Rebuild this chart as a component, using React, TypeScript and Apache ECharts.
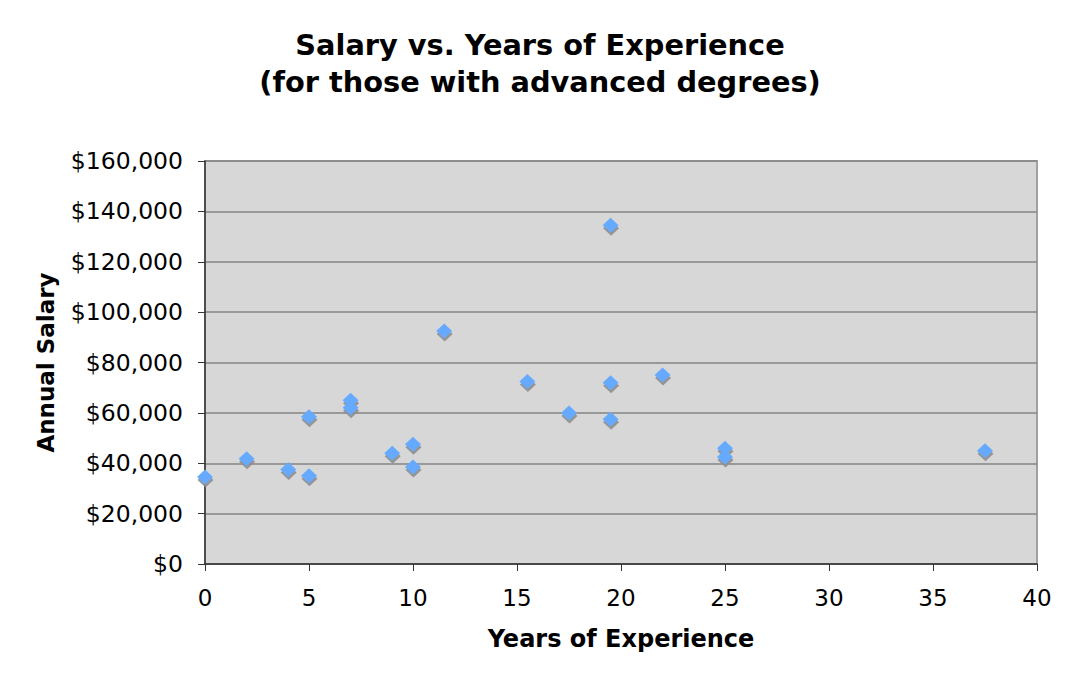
import React, { useEffect, useRef } from "react";
import * as echarts from "echarts";

const years: number[] = [0, 2, 4, 5, 5, 7, 7, 9, 10, 10, 11.5, 15.5, 17.5, 19.5, 19.5, 19.5, 22, 25, 25, 37.5];
const salaries: number[] = [34500, 41800, 37500, 35000, 58500, 65000, 62000, 44000, 47500, 38500, 92500, 72500, 60000, 134500, 72000, 57500, 75000, 46000, 42500, 45000];

const titleLines: string[] = ["Salary vs. Years of Experience", "(for those with advanced degrees)"];
const xAxisTitle = "Years of Experience";
const yAxisTitle = "Annual Salary";

export default function App() {
  const ref = useRef<HTMLDivElement>(null);
  useEffect(() => {
    if (!ref.current) return;
    const chart = echarts.init(ref.current, null, { renderer: "svg" });
    const points = years.map((x, i) => [x, salaries[i]]);
    const font = "DejaVu Sans, Verdana, sans-serif";
    chart.setOption({
      animation: false,
      backgroundColor: "transparent",
      title: {
        text: titleLines.join("\n"),
        left: 535,
        top: 21,
        textAlign: "center",
        textStyle: {
          fontFamily: font,
          fontWeight: "bold",
          fontSize: 28.8,
          lineHeight: 37,
          color: "#000",
        },
      },
      grid: {
        left: 205,
        top: 161,
        right: 30,
        bottom: 114,
        show: true,
        backgroundColor: "#d7d7d7",
        borderColor: "#a0a0a0",
        borderWidth: 2,
      },
      xAxis: {
        type: "value",
        min: 0,
        max: 40,
        interval: 5,
        name: xAxisTitle,
        nameLocation: "middle",
        nameGap: 63,
        nameTextStyle: { fontFamily: font, fontWeight: "bold", fontSize: 24, color: "#000" },
        axisLine: { show: true, onZero: false, lineStyle: { color: "#333", width: 1.5 } },
        axisTick: { show: true, inside: false, length: 7, lineStyle: { color: "#333" } },
        axisLabel: { fontFamily: font, fontSize: 23, color: "#000", margin: 22 },
        splitLine: { show: false },
      },
      yAxis: {
        type: "value",
        min: 0,
        max: 160000,
        interval: 20000,
        name: yAxisTitle,
        nameLocation: "middle",
        nameGap: 148,
        nameRotate: 90,
        nameTextStyle: { fontFamily: font, fontWeight: "bold", fontSize: 23, color: "#000" },
        axisLine: { show: true, onZero: false, lineStyle: { color: "#333", width: 1.5 } },
        axisTick: { show: true, inside: false, length: 7, lineStyle: { color: "#333" } },
        axisLabel: {
          fontFamily: font,
          fontSize: 23.5,
          color: "#000",
          margin: 22,
          formatter: (v: number) => "$" + v.toLocaleString("en-US"),
        },
        splitLine: { show: true, lineStyle: { color: "#858585", width: 1.5 } },
      },
      series: [
        {
          name: "shadow",
          type: "scatter",
          data: points,
          symbol: "diamond",
          symbolSize: [16, 15],
          symbolOffset: [0.5, 3],
          itemStyle: { color: "#8e8e8e", opacity: 0.9 },
          silent: true,
          z: 2,
        },
        {
          name: "Salary",
          type: "scatter",
          data: points,
          symbol: "diamond",
          symbolSize: [16, 15],
          itemStyle: { color: "#66aaff", opacity: 1 },
          z: 3,
        },
      ],
    });
    return () => chart.dispose();
  }, []);
  return (
    <div style={{ position: "relative", width: 1067, height: 678, margin: -8, background: "#fff" }}>
      <div
        style={{
          position: "absolute",
          left: 5,
          top: 3,
          width: 1062,
          height: 675,
          boxSizing: "border-box",
          borderLeft: "2px solid #909090",
          borderTop: "2px solid #909090",
        }}
      />
      <div ref={ref} style={{ position: "absolute", left: 0, top: 0, width: 1067, height: 678 }} />
    </div>
  );
}
